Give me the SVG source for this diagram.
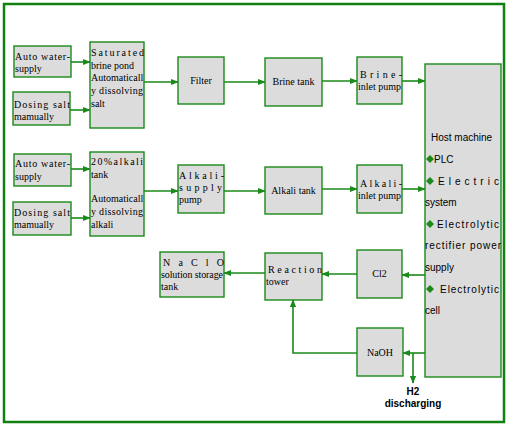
<svg xmlns="http://www.w3.org/2000/svg" width="511" height="427" viewBox="0 0 511 427">
<defs>
<style>
.n{fill:#dcdcdc;stroke:#1a8a1a;stroke-width:1.4}
.t{font-family:"Liberation Serif","Times New Roman",serif;font-size:10px;fill:#000}
.s{font-family:"Liberation Sans",Arial,sans-serif;font-size:10px;fill:#000}
.b{font-family:"Liberation Sans",Arial,sans-serif;font-size:10px;font-weight:bold;fill:#000}
.c{fill:none;stroke:#1a8a1a;stroke-width:1.6}
.d{fill:#1a8a1a}
</style>
<marker id="a" viewBox="0 0 10 10" refX="9" refY="5" markerWidth="5" markerHeight="5" orient="auto">
<path d="M0,1 L10,5 L0,9 z" fill="#1a8a1a"/>
</marker>
</defs>
<rect x="4" y="4" width="500" height="418" fill="#fff" stroke="#108010" stroke-width="2.5"/>

<g id="connectors">
<line class="c" x1="71" y1="62" x2="90" y2="62" marker-end="url(#a)"/>
<line class="c" x1="70" y1="110" x2="90" y2="110" marker-end="url(#a)"/>
<line class="c" x1="144" y1="82" x2="178" y2="82" marker-end="url(#a)"/>
<line class="c" x1="224" y1="82" x2="265" y2="82" marker-end="url(#a)"/>
<line class="c" x1="322" y1="81" x2="357" y2="81" marker-end="url(#a)"/>
<line class="c" x1="402" y1="81" x2="425" y2="81" marker-end="url(#a)"/>
<line class="c" x1="71" y1="169" x2="90" y2="169" marker-end="url(#a)"/>
<line class="c" x1="70" y1="218" x2="90" y2="218" marker-end="url(#a)"/>
<line class="c" x1="144" y1="191" x2="178" y2="191" marker-end="url(#a)"/>
<line class="c" x1="224" y1="191" x2="265" y2="191" marker-end="url(#a)"/>
<line class="c" x1="322" y1="189" x2="357" y2="189" marker-end="url(#a)"/>
<line class="c" x1="402" y1="189" x2="425" y2="189" marker-end="url(#a)"/>
<line class="c" x1="425" y1="275" x2="402" y2="275" marker-end="url(#a)"/>
<line class="c" x1="357" y1="274" x2="322" y2="274" marker-end="url(#a)"/>
<line class="c" x1="265" y1="273" x2="224" y2="273" marker-end="url(#a)"/>
<line class="c" x1="425" y1="353" x2="403" y2="353" marker-end="url(#a)"/>
<line class="c" x1="413" y1="353" x2="413" y2="383" marker-end="url(#a)"/>
<polyline class="c" points="357,353 293,353 293,300" marker-end="url(#a)"/>
</g>

<g id="auto-water-1"><rect class="n" x="14" y="46" width="57" height="31"/>
<text class="t" x="15" y="60" textLength="55" lengthAdjust="spacing">Auto water-</text>
<text class="t" x="15" y="72">supply</text></g>

<g id="dosing-salt-1"><rect class="n" x="13" y="92" width="57" height="33"/>
<text class="t" x="14" y="108" textLength="56" lengthAdjust="spacing">Dosing salt</text>
<text class="t" x="14" y="120">mamually</text></g>

<g id="brine-pond"><rect class="n" x="90" y="42" width="54" height="86"/>
<text class="t" x="91" y="56" textLength="53" lengthAdjust="spacing">Saturated</text>
<text class="t" x="91" y="69">brine pond</text>
<text class="t" x="91" y="81">Automaticall</text>
<text class="t" x="91" y="94" textLength="52" lengthAdjust="spacing">y dissolving</text>
<text class="t" x="91" y="107">salt</text></g>

<g id="filter"><rect class="n" x="178" y="57" width="46" height="47"/>
<text class="t" x="201" y="84" text-anchor="middle">Filter</text></g>

<g id="brine-tank"><rect class="n" x="265" y="58" width="57" height="48"/>
<text class="t" x="293.5" y="85" text-anchor="middle">Brine tank</text></g>

<g id="brine-inlet-pump"><rect class="n" x="357" y="57" width="45" height="47"/>
<text class="t" x="360" y="78" textLength="42" lengthAdjust="spacing">Brine-</text>
<text class="t" x="379.5" y="90" text-anchor="middle">inlet pump</text></g>

<g id="host-machine"><rect class="n" x="425" y="64" width="76" height="313"/>
<text class="s" x="431" y="141">Host machine</text>
<path class="d" d="M430,155 l4,4 l-4,4 l-4,-4 z"/><text class="s" x="434" y="163">PLC</text>
<path class="d" d="M430,177 l4,4 l-4,4 l-4,-4 z"/><text class="s" x="438" y="185" textLength="61" lengthAdjust="spacing">Electric</text>
<text class="s" x="425" y="206">system</text>
<path class="d" d="M430,220 l4,4 l-4,4 l-4,-4 z"/><text class="s" x="437" y="228" textLength="62" lengthAdjust="spacing">Electrolytic</text>
<text class="s" x="425" y="249" textLength="76" lengthAdjust="spacing">rectifier power</text>
<text class="s" x="425" y="271">supply</text>
<path class="d" d="M430,285 l4,4 l-4,4 l-4,-4 z"/><text class="s" x="440" y="293" textLength="59" lengthAdjust="spacing">Electrolytic</text>
<text class="s" x="425" y="314">cell</text></g>

<g id="auto-water-2"><rect class="n" x="14" y="154" width="57" height="32"/>
<text class="t" x="15" y="167" textLength="55" lengthAdjust="spacing">Auto water-</text>
<text class="t" x="15" y="180">supply</text></g>

<g id="dosing-salt-2"><rect class="n" x="13" y="202" width="58" height="33"/>
<text class="t" x="14" y="216" textLength="56" lengthAdjust="spacing">Dosing salt</text>
<text class="t" x="14" y="228">mamually</text></g>

<g id="alkali-tank-20"><rect class="n" x="90" y="152" width="54" height="84"/>
<text class="t" x="91" y="165" textLength="52" lengthAdjust="spacing">20%alkali</text>
<text class="t" x="91" y="178">tank</text>
<text class="t" x="91" y="202">Automaticall</text>
<text class="t" x="91" y="215" textLength="52" lengthAdjust="spacing">y dissolving</text>
<text class="t" x="91" y="228">alkali</text></g>

<g id="alkali-supply-pump"><rect class="n" x="178" y="165" width="46" height="48"/>
<text class="t" x="179" y="179" textLength="45" lengthAdjust="spacing">Alkali-</text>
<text class="t" x="179" y="191" textLength="43" lengthAdjust="spacing">supply</text>
<text class="t" x="179" y="203">pump</text></g>

<g id="alkali-tank"><rect class="n" x="265" y="167" width="57" height="47"/>
<text class="t" x="293.5" y="194" text-anchor="middle">Alkali tank</text></g>

<g id="alkali-inlet-pump"><rect class="n" x="357" y="165" width="45" height="48"/>
<text class="t" x="360" y="187" textLength="42" lengthAdjust="spacing">Alkali-</text>
<text class="t" x="379.5" y="199" text-anchor="middle">inlet pump</text></g>

<g id="cl2"><rect class="n" x="357" y="250" width="45" height="48"/>
<text class="t" x="379.5" y="277" text-anchor="middle">Cl2</text></g>

<g id="naclo-tank"><rect class="n" x="160" y="252" width="64" height="45"/>
<text class="t" x="163" y="266" textLength="61" lengthAdjust="spacing">NaClO</text>
<text class="t" x="161" y="278" textLength="62" lengthAdjust="spacing">solution storage</text>
<text class="t" x="161" y="290">tank</text></g>

<g id="reaction-tower"><rect class="n" x="265" y="253" width="57" height="47"/>
<text class="t" x="268" y="273" textLength="54" lengthAdjust="spacing">Reaction</text>
<text class="t" x="266" y="285">tower</text></g>

<g id="naoh"><rect class="n" x="357" y="328" width="46" height="48"/>
<text class="t" x="380" y="356" text-anchor="middle">NaOH</text></g>

<g id="h2-label">
<text class="b" x="413" y="395" text-anchor="middle">H2</text>
<text class="b" x="413" y="407" text-anchor="middle">discharging</text></g>
</svg>
